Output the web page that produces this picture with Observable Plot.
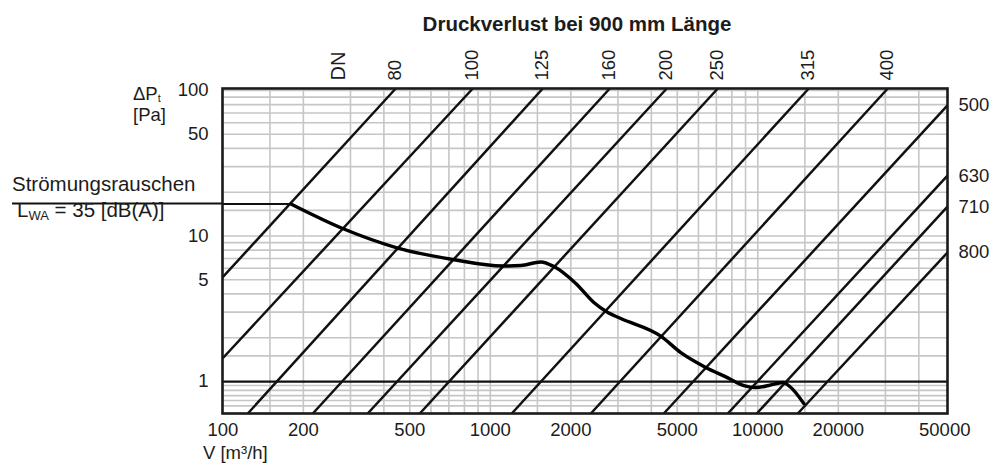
<!DOCTYPE html>
<html><head><meta charset="utf-8">
<script src="https://cdn.jsdelivr.net/npm/d3@7"></script>
<script src="https://cdn.jsdelivr.net/npm/@observablehq/plot@0.6"></script>
<style>
body{margin:0;background:#fff;}
#chart{position:relative;width:995px;height:464px;}
</style>
</head><body><div id="chart"></div>
<script>
// ---- axis ticks ----
const xTicks = [100, 200, 500, 1000, 2000, 5000, 10000, 20000, 50000];
const yTicks = [100, 50, 10, 5, 1];
const xDomain = [99.7, 51200];
const yDomain = [0.603, 103.2];
// ---- grid ----
const gridX = [150,200,300,400,500,600,700,800,900,1000,1500,2000,3000,4000,5000,6000,7000,8000,9000,10000,15000,20000,30000,40000];
const gridY = [0.68,0.74,0.8,0.87,0.94,1.5,2,3,4,5,6,7,8,9,10,15,20,30,40,50,60,70,80,90,100];
// ---- DN pressure-drop lines (end points read at the frame) ----
const dnLabels = ["80","100","125","160","200","250","315","400","500","630","710","800"];
const dnV1 = [99.7, 99.7, 124, 217, 348, 545, 1203, 2376, 4452, 7726, 9915, 14110];
const dnP1 = [5.19, 1.44, 0.603, 0.603, 0.603, 0.603, 0.603, 0.603, 0.603, 0.603, 0.603, 0.603];
const dnV2 = [443, 860, 1571, 2797, 4568, 7088, 15510, 30620, 51200, 51200, 51200, 51200];
const dnP2 = [103.2, 103.2, 103.2, 103.2, 103.2, 103.2, 103.2, 103.2, 78.9, 26.0, 15.9, 7.7];
// ---- flow noise curve L_WA = 35 dB(A) ----
const curveV = [179.6, 283.4, 451, 724, 1114, 1300, 1545, 1728, 2088, 2438, 2750, 3075, 4340, 5155, 6337, 7726, 8867, 9829, 10990, 12405, 13170, 14860];
const curveP = [16.6, 11.17, 8.27, 6.90, 6.22, 6.27, 6.63, 6.17, 4.72, 3.49, 2.98, 2.71, 2.05, 1.58, 1.26, 1.06, 0.939, 0.909, 0.939, 0.984, 0.924, 0.706];
const refLevel = [1];

const dnLines = dnLabels.map((dn, i) => ({dn, v1: dnV1[i], p1: dnP1[i], v2: dnV2[i], p2: dnP2[i]}));
const dnTop = dnLines.filter(d => d.p2 >= yDomain[1]);
const dnRight = dnLines.filter(d => d.p2 < yDomain[1]);
const curve = curveV.map((v, i) => ({v, p: curveP[i]}));

const FONT = "Liberation Sans, Arial, Helvetica, sans-serif";
const INK = "#1c1c1c";
const FS = 18.5;

const plot = Plot.plot({
  width: 995, height: 464,
  marginTop: 88, marginBottom: 51, marginLeft: 222, marginRight: 48,
  style: {fontFamily: FONT, fontSize: FS + "px", color: INK, background: "white", overflow: "visible"},
  x: {type: "log", domain: xDomain, axis: null},
  y: {type: "log", domain: yDomain, axis: null},
  marks: [
    Plot.ruleX(gridX, {stroke: "#c6c6c6", strokeWidth: 1.6}),
    Plot.ruleY(gridY, {stroke: "#c6c6c6", strokeWidth: 1.6}),
    Plot.link(dnLines, {x1: "v1", y1: "p1", x2: "v2", y2: "p2", stroke: "#111", strokeWidth: 2.5}),
    Plot.ruleY(refLevel, {stroke: "#111", strokeWidth: 2.2}),
    Plot.ruleY([curveP[0]], {x1: xDomain[0], x2: curveV[0], stroke: "#111", strokeWidth: 1.8}),
    Plot.line(curve, {x: "v", y: "p", curve: "monotone-x", stroke: "#000", strokeWidth: 3.4}),
    Plot.frame({stroke: "#1a1a1a", strokeWidth: 2.6}),
    // tick labels through the scales
    Plot.text(xTicks, {x: d => d, text: d => String(d), frameAnchor: "bottom", lineAnchor: "top", dy: 9, fontSize: FS, fill: INK}),
    Plot.text(yTicks, {y: d => d, text: d => String(d), frameAnchor: "left", textAnchor: "end", dx: -14, fontSize: FS, fill: INK}),
    // DN labels
    Plot.text(dnTop, {x: "v2", text: "dn", frameAnchor: "top", rotate: -90, textAnchor: "start", dx: -8, dy: -8, fontSize: FS, fill: INK}),
    Plot.text(["DN"], {frameAnchor: "top-left", dx: 108, dy: -8, rotate: -90, textAnchor: "start", fontSize: 20, fill: INK}),
    Plot.text(dnRight, {y: "p2", text: "dn", frameAnchor: "right", textAnchor: "start", dx: 11, fontSize: FS, fill: INK})
  ]
});

const svg = d3.select(plot);
let ys = null;
try { ys = plot.scale("y"); } catch (e) {}
const yL = ys ? ys.apply(curveP[0]) : 203.5;

// leader line outside the frame
svg.append("line").attr("x1", 12).attr("x2", 222).attr("y1", yL).attr("y2", yL)
  .attr("stroke", "#111").attr("stroke-width", 1.8);

function txt(x, y, s, opts = {}) {
  const t = svg.append("text").attr("x", x).attr("y", y)
    .attr("font-family", FONT).attr("font-size", opts.size || 19)
    .attr("font-weight", opts.weight || "normal")
    .attr("text-anchor", opts.anchor || "start").attr("fill", INK).text(s);
  return t;
}
txt(577, 31, "Druckverlust bei 900 mm Länge", {weight: "bold", size: 20.5, anchor: "middle"});
const dp = txt(133, 100, "ΔP", {size: FS});
dp.append("tspan").attr("font-size", 11).attr("dy", 2).text("t");
txt(133, 121, "[Pa]", {size: FS});
txt(203, 459, "V [m³/h]", {size: FS});
txt(12, 191, "Strömungsrauschen", {size: 20.5});
const lw = txt(17, 217, "L", {size: 20.5});
lw.append("tspan").attr("font-size", 13).attr("dy", 3).text("WA");
lw.append("tspan").attr("dy", -3).text(" = 35 [dB(A)]");

document.getElementById("chart").appendChild(plot);
</script>
</body></html>
